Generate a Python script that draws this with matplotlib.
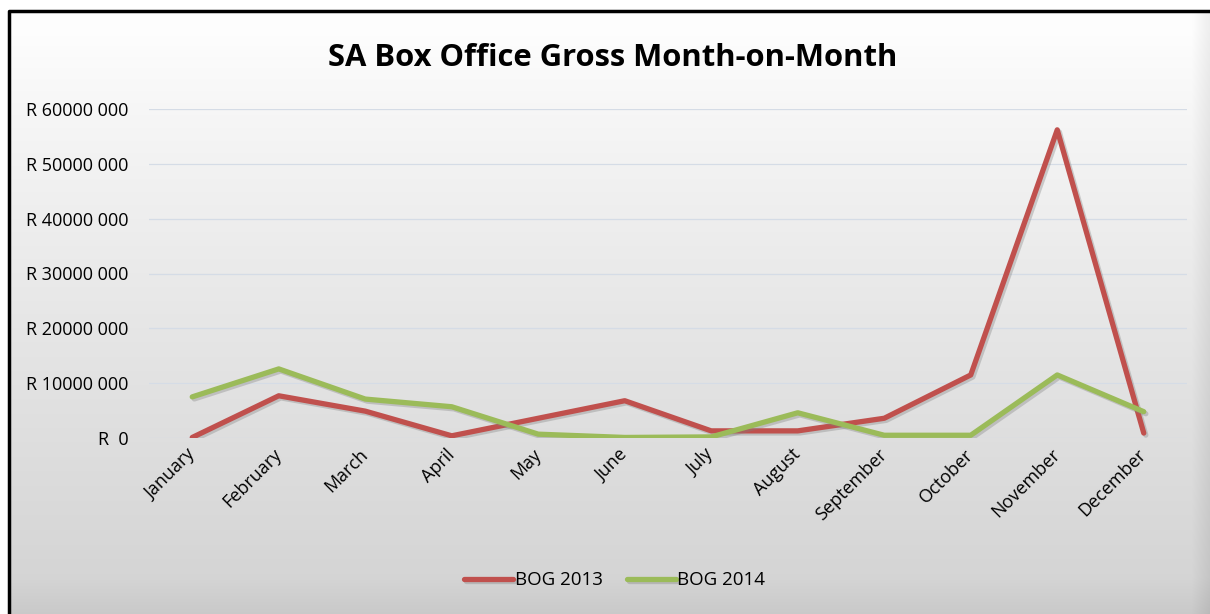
import numpy as np
import matplotlib.pyplot as plt
import matplotlib.patheffects as pe

meses = ["January", "February", "March", "April", "May", "June", "July",
         "August", "September", "October", "November", "December"]
bog_2013 = [0.1, 7.7, 4.9, 0.4, 3.6, 6.8, 1.3, 1.3, 3.6, 11.5, 56.2, 0.9]  # milhoes de rand
bog_2014 = [7.5, 12.6, 7.1, 5.7, 0.7, 0.1, 0.2, 4.6, 0.5, 0.5, 11.5, 4.8]
ticks_y = [0, 10, 20, 30, 40, 50, 60]
rotulos_y = ["R  0", "R 10000 000", "R 20000 000", "R 30000 000",
             "R 40000 000", "R 50000 000", "R 60000 000"]

plt.rcParams['font.family'] = ['Open Sans', 'DejaVu Sans']

fig = plt.figure(figsize=(12.1, 6.14), dpi=100)
fig.patch.set_facecolor("white")

# fundo em gradiente (estilo Excel)
fundo = fig.add_axes([9 / 1210, 0, 1 - 9 / 1210, 1 - 11 / 614])
fundo.set_axis_off()
h, w = 600, 1200
yy = np.linspace(0, 1, h)[:, None]
xx = np.linspace(0, 1, w)[None, :]
tom = 0.995 - 0.17 * np.clip((yy - 0.03) / 0.97, 0, 1) ** 0.9
tom = np.repeat(tom, w, axis=1)
borda_inf = np.clip((yy - 0.94) / 0.06, 0, 1)
tom = tom - 0.035 * borda_inf
borda_dir = np.clip((xx - 0.985) / 0.015, 0, 1)
tom = tom - 0.06 * borda_dir
fundo.imshow(np.dstack([tom, tom, tom]), aspect="auto", extent=[0, 1, 0, 1],
             origin="upper", interpolation="bilinear")
fundo.set_xlim(0, 1)
fundo.set_ylim(0, 1)
fundo.plot([0, 0, 1], [0, 1, 1], color="black", lw=2.5, clip_on=False)

ax = fig.add_axes([149 / 1210, 176 / 614, 1038 / 1210, 329 / 614])
ax.set_facecolor("none")
x = np.arange(len(meses))
sombra = [pe.SimpleLineShadow(offset=(1.5, -1.5), shadow_color="gray", alpha=0.35), pe.Normal()]
ax.plot(x, bog_2013, color="#C0504D", lw=3.8, label="BOG 2013",
        solid_joinstyle="round", solid_capstyle="round", path_effects=sombra, zorder=3)
ax.plot(x, bog_2014, color="#9BBB59", lw=3.8, label="BOG 2014",
        solid_joinstyle="round", solid_capstyle="round", path_effects=sombra, zorder=3)

ax.set_xlim(-0.5, 11.5)
ax.set_ylim(0, 60)
ax.set_yticks(ticks_y)
ax.set_yticklabels(rotulos_y, fontsize=13)
ax.grid(axis="y", color="#D5DCE6", lw=0.9)
ax.set_axisbelow(True)
ax.tick_params(axis="y", length=0, pad=15)
ax.tick_params(axis="x", length=0, pad=10)
ax.set_xticks(x)
ax.set_xticklabels(meses, rotation=45, ha="right", va="center",
                   rotation_mode="anchor", fontsize=13)
for lado in ax.spines.values():
    lado.set_visible(False)

fig.text(0.506, 0.905, "SA Box Office Gross Month-on-Month", ha="center",
         va="center", fontsize=22.3, fontweight="bold")

fig.legend(loc="center", bbox_to_anchor=(0.508, 0.055), ncol=2, frameon=False,
           fontsize=13.5, handlelength=2.6, handletextpad=0.1, columnspacing=1.3)

fig.savefig("out.png", dpi=100)
